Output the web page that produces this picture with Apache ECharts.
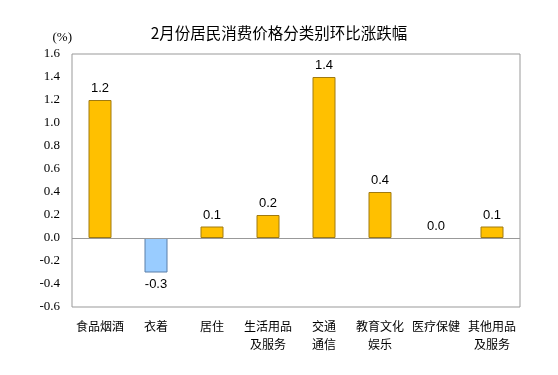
<!DOCTYPE html>
<html><head><meta charset="utf-8">
<script src="https://cdn.jsdelivr.net/npm/echarts@6/dist/echarts.min.js"></script>
<style>html,body{margin:0;padding:0;background:#fff}#c{width:558px;height:375px}</style>
</head><body><div id="c"></div>
<script>
const categories = ['食品烟酒','衣着','居住','生活用品\n及服务','交通\n通信','教育文化\n娱乐','医疗保健','其他用品\n及服务'];
const values = [1.2, -0.3, 0.1, 0.2, 1.4, 0.4, 0.0, 0.1];
const yTicks = {min: -0.6, max: 1.6, interval: 0.2};
const title = '2月份居民消费价格分类别环比涨跌幅';

const chart = echarts.init(document.getElementById('c'));
const data = values.map(v => ({
  value: v,
  itemStyle: v < 0 ? {color: '#99CCFF', borderColor: '#5a7fa8'} :
    (v === 0 ? {color: '#FFC000', borderWidth: 0} : {color: '#FFC000', borderColor: '#a07a10'}),
  label: {position: v < 0 ? 'bottom' : 'top'}
}));
chart.setOption({
  animation: false,
  title: {text: title, left: 'center', top: 20, textStyle: {fontFamily: 'Noto Sans CJK SC', fontSize: 15.5, fontWeight: 'normal', color: '#000'}},
  grid: {left: 72, right: 38, top: 54, bottom: 68, show: true, borderColor: '#999', borderWidth: 1},
  xAxis: {type: 'category', data: categories,
    axisLine: {show: false, onZero: false}, axisTick: {show: false},
    axisLabel: {interval: 0, color: '#000', fontSize: 12, fontFamily: 'Noto Sans CJK SC', margin: 10, lineHeight: 18}},
  yAxis: {type: 'value', min: yTicks.min, max: yTicks.max, interval: yTicks.interval,
    name: '(%)', nameLocation: 'end', nameGap: 10, nameTextStyle: {fontFamily: 'Liberation Serif', fontSize: 13, color: '#000', align: 'right'},
    splitLine: {show: false}, axisLine: {show: false}, axisTick: {show: false},
    axisLabel: {color: '#000', fontFamily: 'Liberation Serif', fontSize: 13, margin: 12, formatter: v => v.toFixed(1)}},
  series: [{type: 'bar', data: data, barWidth: 23,
    itemStyle: {borderWidth: 1},
    label: {show: true, color: '#000', fontFamily: 'Liberation Sans', fontSize: 13, distance: 5, formatter: p => p.value.toFixed(1)},
    markLine: {silent: true, symbol: 'none', label: {show: false}, lineStyle: {color: '#999', type: 'solid', width: 1}, data: [{yAxis: 0}]}
  }]
});
</script></body></html>
